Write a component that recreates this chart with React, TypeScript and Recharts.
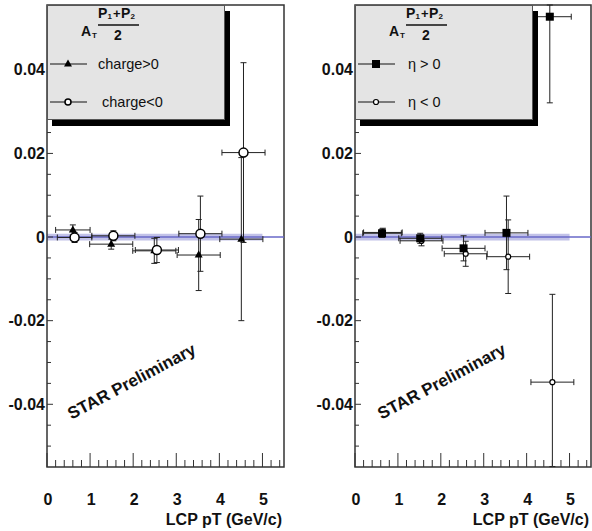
import React from "react"
import { ScatterChart, Scatter, XAxis, YAxis, ErrorBar, ReferenceLine, ReferenceArea, Label } from "recharts"

// left panel: charge split
const chargePosX = [0.6, 1.49, 2.49, 3.52, 4.51]
const chargePosY = [0.0017, -0.0017, -0.0033, -0.0043, -0.0005]
const chargePosXErr = [0.4, 0.5, 0.5, 0.5, 0.5]
const chargePosYErr = [0.0012, 0.0012, 0.003, 0.0085, 0.0195]

const chargeNegX = [0.64, 1.54, 2.55, 3.56, 4.56]
const chargeNegY = [-0.0001, 0.0003, -0.0031, 0.0008, 0.0202]
const chargeNegXErr = [0.4, 0.5, 0.5, 0.5, 0.5]
const chargeNegYErr = [0.0012, 0.0012, 0.003, 0.009, 0.0215]

// right panel: eta split (last bins run off the frame, so the visible part is kept)
const etaPosX = [0.63, 1.52, 2.53, 3.53, 4.54]
const etaPosY = [0.0009, -0.0003, -0.0027, 0.001, 0.0527]
const etaPosXErr = [0.45, 0.5, 0.5, 0.5, 0.5]
const etaPosYErrLow = [0.001, 0.0012, 0.003, 0.0088, 0.0206]
const etaPosYErrHigh = [0.001, 0.0012, 0.003, 0.0088, 0.0028]

const etaNegX = [0.65, 1.55, 2.58, 3.57, 4.6]
const etaNegY = [0.0011, -0.0009, -0.004, -0.0047, -0.0347]
const etaNegXErr = [0.45, 0.5, 0.5, 0.5, 0.5]
const etaNegYErrLow = [0.001, 0.0012, 0.003, 0.0088, 0.0202]
const etaNegYErrHigh = [0.001, 0.0012, 0.003, 0.0088, 0.021]

const xTicks = [0, 0.2, 0.4, 0.6, 0.8, 1, 1.2, 1.4, 1.6, 1.8, 2, 2.2, 2.4, 2.6, 2.8, 3, 3.2, 3.4, 3.6, 3.8, 4, 4.2, 4.4, 4.6, 4.8, 5, 5.2, 5.4]
const yTicks = [-0.05, -0.045, -0.04, -0.035, -0.03, -0.025, -0.02, -0.015, -0.01, -0.005, 0, 0.005, 0.01, 0.015, 0.02, 0.025, 0.03, 0.035, 0.04, 0.045, 0.05, 0.055]
const yLabels = [-0.04, -0.02, 0, 0.02, 0.04]

const X_DOMAIN = [0, 5.5]
const Y_DOMAIN = [-0.055, 0.0555]
const BAND = [0, 5, -0.0008, 0.0008]

const FONT = "'Liberation Sans', Arial, Helvetica, sans-serif"
const INK = "#333"

const rows = (xs: number[], ys: number[], xe: number[], yLo: number[], yHi: number[] = yLo) =>
  xs.map((x, i) => ({ x, y: ys[i], xErr: xe[i], yErr: [yLo[i], yHi[i]] }))

const Triangle = (p: any) => (
  <path d={`M${p.cx},${p.cy - 4.5} L${p.cx + 4},${p.cy + 2.5} L${p.cx - 4},${p.cy + 2.5} Z`} fill="#000" />
)
const OpenCircle = (p: any) => <circle cx={p.cx} cy={p.cy} r={p.r || 4.5} fill="#fff" stroke="#000" strokeWidth={1.5} />
const Square = (p: any) => <rect x={p.cx - 4} y={p.cy - 4} width={8} height={8} fill="#000" />
const SmallCircle = (p: any) => <circle cx={p.cx} cy={p.cy} r={2.5} fill="#fff" stroke="#000" strokeWidth={1.2} />

const isMajor = (v: number, step: number) => Math.abs(v / step - Math.round(v / step)) < 1e-6

const YTick = (p: any) => {
  const v = p.payload.value
  const major = yLabels.some((l) => Math.abs(l - v) < 1e-9)
  return (
    <g>
      <line x1={p.x} x2={p.x + (major ? 6 : 4)} y1={p.y} y2={p.y} stroke={INK} strokeWidth={1} />
      {major && (
        <text x={p.x - 2} y={p.y + 5.5} textAnchor="end" fontFamily={FONT} fontWeight="bold" fontSize={16} fill="#111">
          {Math.abs(v) < 1e-9 ? "0" : v.toFixed(2)}
        </text>
      )}
    </g>
  )
}

const XTick = (p: any) => {
  const v = p.payload.value
  const major = isMajor(v, 1)
  return (
    <g>
      <line x1={p.x} x2={p.x} y1={p.y} y2={p.y - (major ? 14 : 7)} stroke={INK} strokeWidth={1} />
      {major && (
        <text x={p.x + 1} y={p.y + 38} textAnchor="middle" fontFamily={FONT} fontWeight="bold" fontSize={16} fill="#111">
          {Math.round(v)}
        </text>
      )}
    </g>
  )
}

interface Series {
  data: any[]
  shape: any
}

function LegendBox({ left, items }: { left: number; items: { label: string; marker: any; textX: number }[] }) {
  return (
    <div
      style={{
        position: "absolute",
        left,
        top: 5,
        width: 178,
        height: 115,
        background: "#e4e4e4",
        border: "1px solid #555",
        boxSizing: "border-box",
        boxShadow: "5px 6px 0 #000",
      }}
    >
      <svg width={178} height={115} style={{ position: "absolute", left: -1, top: -1 }}>
        <g fontFamily={FONT} fontWeight="bold" fill="#111">
          <text x={34} y={31} fontSize={14}>A</text>
          <text x={45} y={33} fontSize={8}>T</text>
          <text x={51} y={13} fontSize={14}>P</text>
          <text x={60.5} y={14} fontSize={8}>1</text>
          <text x={66} y={13} fontSize={13}>+</text>
          <text x={74} y={13} fontSize={14}>P</text>
          <text x={83.5} y={14} fontSize={8}>2</text>
          <line x1={51} x2={92} y1={20} y2={20} stroke="#111" strokeWidth={1.3} />
          <text x={71} y={35} fontSize={14} textAnchor="middle">2</text>
        </g>
        {items.map((it, i) => {
          const y = 59 + i * 38
          const M = it.marker
          return (
            <g key={it.label}>
              <line x1={3} x2={40} y1={y} y2={y} stroke="#111" strokeWidth={1} />
              <M cx={21} cy={y} r={3} />
              <text x={it.textX} y={y + 5} fontFamily={FONT} fontSize={14.5} fill="#111">{it.label}</text>
            </g>
          )
        })}
      </svg>
    </div>
  )
}

function Panel({ left, axisWidth, marginRight, series }: { left: number; axisWidth: number; marginRight: number; series: Series[] }) {
  return (
    <div style={{ position: "absolute", left, top: 0 }}>
      <ScatterChart width={296} height={531} margin={{ top: 5, right: marginRight, bottom: 0, left: 0 }}>
        <XAxis
          type="number"
          dataKey="x"
          domain={X_DOMAIN}
          ticks={xTicks}
          interval={0}
          height={64}
          allowDataOverflow
          axisLine={false}
          tickLine={false}
          tickSize={0}
          tickMargin={0}
          tick={<XTick />}
        >
          <Label
            content={(p: any) => (
              <text
                x={p.viewBox.x + p.viewBox.width - 2}
                y={p.viewBox.y + 58}
                textAnchor="end"
                fontFamily={FONT}
                fontWeight="bold"
                fontSize={16}
                fill="#111"
              >
                LCP pT (GeV/c)
              </text>
            )}
          />
        </XAxis>
        <YAxis
          type="number"
          dataKey="y"
          domain={Y_DOMAIN}
          ticks={yTicks}
          interval={0}
          width={axisWidth}
          allowDataOverflow
          axisLine={false}
          tickLine={false}
          tickSize={0}
          tickMargin={0}
          tick={<YTick />}
        />
        <ReferenceArea x1={BAND[0]} x2={BAND[1]} y1={BAND[2]} y2={BAND[3]} fill="#9a9ad8" fillOpacity={0.6} stroke="none" />
        <ReferenceLine y={0} stroke="#6868c8" strokeWidth={1.5} />
        <ReferenceArea x1={X_DOMAIN[0]} x2={X_DOMAIN[1]} y1={Y_DOMAIN[0]} y2={Y_DOMAIN[1]} fill="none" stroke={INK} strokeWidth={1.5} />
        {series.map((s, i) => (
          <Scatter key={i} data={s.data} shape={s.shape} isAnimationActive={false}>
            <ErrorBar dataKey="xErr" direction="x" width={3} stroke="#222" strokeWidth={1} />
            <ErrorBar dataKey="yErr" direction="y" width={3} stroke="#222" strokeWidth={1} />
          </Scatter>
        ))}
      </ScatterChart>
    </div>
  )
}

const starStyle = (left: number): React.CSSProperties => ({
  position: "absolute",
  left,
  top: 382,
  transform: "translate(-50%, -50%) rotate(-28deg)",
  whiteSpace: "nowrap",
  fontFamily: FONT,
  fontWeight: "bold",
  fontSize: 17,
  color: "#111",
})

export default function App() {
  const left: Series[] = [
    { data: rows(chargePosX, chargePosY, chargePosXErr, chargePosYErr), shape: Triangle },
    { data: rows(chargeNegX, chargeNegY, chargeNegXErr, chargeNegYErr), shape: OpenCircle },
  ]
  const right: Series[] = [
    { data: rows(etaNegX, etaNegY, etaNegXErr, etaNegYErrLow, etaNegYErrHigh), shape: SmallCircle },
    { data: rows(etaPosX, etaPosY, etaPosXErr, etaPosYErrLow, etaPosYErrHigh), shape: Square },
  ]
  return (
    <div style={{ position: "absolute", left: 0, top: 0, width: 592, height: 531, background: "#fff", overflow: "hidden" }}>
      <Panel left={0} axisWidth={47} marginRight={12} series={left} />
      <Panel left={296} axisWidth={59} marginRight={1} series={right} />
      <LegendBox
        left={47}
        items={[
          { label: "charge>0", marker: Triangle, textX: 51 },
          { label: "charge<0", marker: OpenCircle, textX: 55 },
        ]}
      />
      <LegendBox
        left={355}
        items={[
          { label: "η > 0", marker: Square, textX: 53 },
          { label: "η < 0", marker: SmallCircle, textX: 53 },
        ]}
      />
      <div style={starStyle(132)}>STAR Preliminary</div>
      <div style={starStyle(442)}>STAR Preliminary</div>
    </div>
  )
}
